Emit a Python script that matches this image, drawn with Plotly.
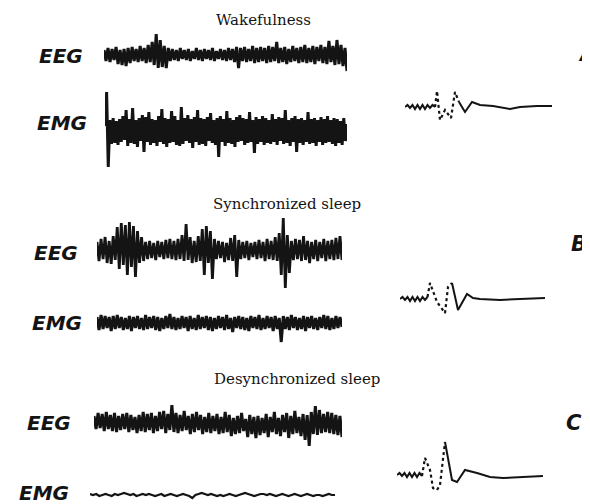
import plotly.graph_objects as go

W, H = 590, 504          # reference picture size
OFF = 8                  # page body margin the browser adds around the plot
FW, FH = W - OFF, H - OFF

# ---------------- data (amplitudes, positive = up, arbitrary units) ----------------
wake_eeg = [6,-5,8,-6,7,-4,9,-8,6,-9,
            7,-10,8,-7,9,-5,7,-6,10,-5,
            8,-7,11,-6,14,-9,22,-12,16,-11,
            10,-12,8,-5,7,-4,6,-5,8,-3,
            6,-4,7,-5,5,-3,8,-4,6,-5,
            7,-3,6,-4,8,-5,5,-3,7,-4,
            6,-5,8,-4,7,-6,9,-12,8,-5,
            9,-6,7,-5,10,-7,8,-6,9,-5,
            8,-7,10,-6,9,-5,14,-7,8,-6,
            9,-8,7,-6,10,-5,8,-7,9,-6,
            11,-7,8,-6,10,-8,9,-5,11,-7,
            9,-8,15,-6,10,-9,16,-8,11,-10,
            8,-15]

wake_emg = [4,38,-37,10,-14,12,-13,9,-15,11,
            -12,14,-10,20,-16,11,-13,22,-14,10,
            -17,12,-11,15,-22,13,-12,18,-15,11,
            -13,10,-16,14,-12,21,-14,12,-17,11,
            -13,19,-12,14,-15,10,-16,23,-14,12,
            -11,15,-13,11,-18,13,-12,20,-15,12,
            -14,11,-16,13,-11,17,-13,10,-15,12,
            -27,14,-12,11,-16,19,-13,12,-14,10,
            -17,13,-12,15,-11,12,-15,11,-13,18,
            -12,10,-23,13,-14,11,-12,14,-15,12,
            -13,10,-14,16,-12,11,-15,13,-11,12,
            -14,20,-13,10,-16,12,-12,14,-22,11,
            -13,12,-15,10,-12,18,-14,11,-13,12,
            -16,10,-12,13,-15,11,-13,14,-12,10,
            -14,12,-16,11,-13,9,-15,12,-11,6]

sync_eeg = [9,-10,12,-8,14,-12,10,-13,15,-9,
            24,-18,28,-14,26,-24,29,-16,25,-26,
            20,-12,14,-10,9,-8,10,-7,8,-9,
            10,-6,9,-8,11,-7,12,-8,10,-9,
            12,-8,16,-10,27,-9,14,-12,10,-11,
            15,-10,22,-24,25,-12,20,-28,12,-8,
            10,-7,9,-11,8,-9,13,-10,16,-26,
            11,-8,9,-7,10,-9,8,-6,9,-8,
            11,-7,9,-10,12,-8,10,-9,14,-10,
            18,-24,33,-37,16,-22,10,-9,12,-8,
            11,-10,15,-9,10,-12,9,-8,11,-10,
            9,-7,12,-10,10,-8,11,-9,13,-8,
            15,-9]

sync_emg = [6,-7,8,-6,7,-5,6,-8,7,-6,
            8,-5,6,-7,5,-6,7,-8,6,-5,
            7,-6,5,-7,8,-6,6,-5,7,-7,
            6,-8,5,-6,7,-5,9,-6,6,-7,
            5,-6,7,-5,6,-8,7,-6,5,-7,
            8,-6,6,-5,7,-7,6,-8,5,-6,
            7,-5,6,-7,8,-6,5,-9,6,-5,
            7,-6,6,-7,5,-8,7,-5,6,-6,
            8,-7,5,-6,7,-5,6,-8,7,-6,
            5,-19,7,-6,6,-7,8,-5,6,-7,
            5,-6,7,-8,6,-5,7,-6,5,-7,
            6,-5,8,-6,7,-7,5,-6,7,-5,
            6,-4]

desync_eeg = [8,-5,11,-4,10,-7,12,-5,9,-7,
              11,-8,8,-6,10,-5,11,-8,9,-6,
              7,-9,9,-7,12,-8,10,-6,11,-9,
              8,-7,12,-5,13,-9,10,-6,19,-8,
              11,-9,9,-7,13,-6,8,-10,10,-8,
              12,-6,9,-10,7,-8,11,-9,8,-7,
              10,-10,7,-9,12,-8,9,-12,6,-10,
              8,-9,11,-7,5,-13,9,-10,7,-14,
              8,-11,6,-9,10,-13,7,-8,12,-10,
              6,-12,9,-8,11,-14,8,-10,13,-9,
              7,-12,10,-16,9,-22,12,-10,18,-11,
              14,-9,10,-8,12,-9,11,-10,9,-11,
              8,-13]

desync_emg = [1,0,1,-1,0,1,0,-1,1,0,
              1,2,1,0,1,-1,0,1,0,1,
              0,-1,0,1,-1,0,1,0,-1,0,
              1,0,-1,-3,0,1,2,1,0,1,
              0,-1,0,-1,0,1,0,-1,0,1,
              2,1,0,-1,0,1,1,0,1,0,
              -1,0,1,0,-1,0,1,0,-1,0,
              1,0,-1,0,0,-1,0,1,0,0]

# evoked potentials (time, amplitude)
epA_t = [0,2.5,5,7.5,10,12.5,15,17.5,20,22.5,25,27.5,30,32,35,40,46,50,54,60,67,75,88,105,115,132,147]
epA_v = [0,2,-1,2,-2,2,-2,2,-2,2,-1,2,0,16,-13,-3,-11,15,5,-5,5,2,1,-2,0,1,1]
epB_t = [0,2.5,5,7.5,10,12.5,15,17.5,20,22.5,25,27.5,30,37,45,48,52,58,67,73,80,100,120,145]
epB_v = [0,2,-1,2,-2,2,-2,2,-2,2,-1,2,16,-3,-14,12,16,-11,5,1,0,-1,0,1]
epC_t = [0,2.5,5,7.5,10,12.5,15,17.5,20,22.5,25,28,33,36,40,43,48,55,60,68,80,93,106,128,146]
epC_v = [0,2,-1,2,-2,2,-2,2,-2,2,-1,17,5,-13,-15,-10,33,-5,-7,5,2,-2,-3,-2,-1]

titles = ["Wakefulness", "Synchronized sleep", "Desynchronized sleep"]
row_labels = ["EEG", "EMG", "EEG", "EMG", "EEG", "EMG"]
panel_letters = ["A", "B", "C"]

# ---------------- layout helpers ----------------
INK = "#141414"
fig = go.Figure()
axis_count = [0]


def px(x):
    return (x - OFF) / FW


def py(y):
    return 1 - (y - OFF) / FH


def new_axes(x0, x1, yc, half):
    axis_count[0] += 1
    k = axis_count[0]
    sfx = "" if k == 1 else str(k)
    top = max(OFF, yc - half)
    bot = min(H, yc + half)
    fig.layout["xaxis" + sfx] = dict(domain=[px(x0), px(x1)], visible=False, fixedrange=True)
    fig.layout["yaxis" + sfx] = dict(domain=[py(bot), py(top)], range=[yc - bot, yc - top],
                                     visible=False, fixedrange=True, anchor="x" + sfx)
    return sfx


def add_signal(vals, x0, x1, yc, lw):
    sfx = new_axes(x0, x1, yc, 50)
    n = len(vals)
    fig.layout["xaxis" + sfx].range = [0, n - 1]
    fig.add_trace(go.Scatter(x=list(range(n)), y=vals, mode="lines",
                             line=dict(color=INK, width=lw), xaxis="x" + sfx, yaxis="y" + sfx,
                             hoverinfo="skip", showlegend=False))


def add_ep(t, v, x0, x1, yc, fast_lo, fast_hi):
    sfx = new_axes(x0, x1, yc, 45)
    fig.layout["xaxis" + sfx].range = [t[0], t[-1]]
    segs = [(0, fast_lo + 1, "solid"), (fast_lo, fast_hi + 1, "dot"), (fast_hi, len(t), "solid")]
    for a, b, d in segs:
        fig.add_trace(go.Scatter(x=t[a:b], y=v[a:b], mode="lines",
                                 line=dict(color=INK, width=2 if d == "solid" else 2.2, dash=d),
                                 xaxis="x" + sfx, yaxis="y" + sfx, hoverinfo="skip", showlegend=False))


add_signal(wake_eeg, 104, 347, 56, 3.0)
add_signal(wake_emg, 105, 347, 130, 3.0)
add_signal(sync_eeg, 97, 342, 251, 2.8)
add_signal(sync_emg, 97, 342, 323, 3.0)
add_signal(desync_eeg, 94, 342, 424, 3.0)
add_signal(desync_emg, 90, 335, 495, 2.2)

add_ep(epA_t, epA_v, 405, 552, 107, 12, 18)
add_ep(epB_t, epB_v, 400, 545, 299, 11, 16)
add_ep(epC_t, epC_v, 397, 543, 475, 10, 16)

ann = []
title_pos = [(263, 20), (287, 204), (297, 379)]
for txt, (x, y) in zip(titles, title_pos):
    ann.append(dict(text=txt, x=px(x), y=py(y), xref="paper", yref="paper", showarrow=False,
                    xanchor="center", yanchor="middle",
                    font=dict(family="DejaVu Serif", size=15, color=INK)))
label_pos = [(37, 56), (35, 123), (32, 253), (30, 323), (25, 423), (17, 493)]
for txt, (x, y) in zip(row_labels, label_pos):
    ann.append(dict(text=txt, x=px(x), y=py(y), xref="paper", yref="paper", showarrow=False,
                    xanchor="left", yanchor="middle",
                    font=dict(family="DejaVu Sans", size=20, color=INK, style="italic", weight="bold")))
letter_pos = [(576, 54), (569, 244), (564, 423)]
for txt, (x, y) in zip(panel_letters, letter_pos):
    ann.append(dict(text=txt, x=px(x), y=py(y), xref="paper", yref="paper", showarrow=False,
                    xanchor="left", yanchor="middle",
                    font=dict(family="DejaVu Sans", size=21, color=INK, style="italic", weight="bold")))

fig.update_layout(width=FW, height=FH, margin=dict(l=0, r=0, t=0, b=0),
                  paper_bgcolor="white", plot_bgcolor="rgba(0,0,0,0)",
                  annotations=ann, showlegend=False)

fig.write_html("out.html")
